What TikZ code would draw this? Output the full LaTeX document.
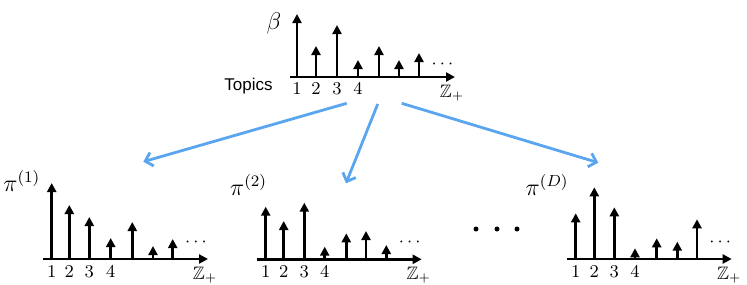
\documentclass[tikz,border=0pt]{standalone}
\usepackage{amsmath,amssymb}
\usepackage{fontspec}
\setsansfont{Liberation Sans}
\usepackage{xcolor}
\usepackage{tikz}
\usetikzlibrary{arrows.meta,positioning}
\definecolor{linkblue}{RGB}{90,165,240}

\begin{document}
\begin{tikzpicture}[
  x=0.5pt, y=-0.5pt,
  axis/.style={line width=1.4pt, -{Triangle[length=4.5pt,width=4.5pt]}},
  spike/.style={line width=1.4pt, -{Triangle[length=4.5pt,width=4.5pt]}},
  idx/.style={font=\small, inner sep=0pt},
  ttl/.style={font=\large, inner sep=0pt},
  link/.style={linkblue, line width=1.4pt, -{Straight Barb[length=3.5pt,width=7pt]}},
]
\useasboundingbox (0,0) rectangle (747,284);

% global topic weights
\begin{scope}[shift={(290,77)}]
  \draw[axis] (0,0) -- (165,0);
  \foreach \dx/\h in {7/63,26/31,47/52,68/17,89/31,109/17,129/24}
    \draw[spike] (\dx,0) -- (\dx,-\h);
  \foreach \dx/\n in {7/1,26/2,47/3,68/4}
    \node[idx] (b\n) at (\dx,12) {$\n$};
  \node[idx] (bz) at (162,16) {$\mathbb{Z}_+$};
  \node[idx] (bdots) at (154,-13) {$\cdots$};
  \node[ttl] (beta) at (-16,-54) {$\beta$};
  \node[font=\sffamily\fontsize{8.5}{10}\selectfont, anchor=base east, inner sep=0pt] (topics) at (-17,13) {Topics};
  \coordinate (src1) at (56.7,26.3);
  \coordinate (src2) at (87.7,27);
  \coordinate (src3) at (111.7,26.3);
\end{scope}

% document 1
\begin{scope}[shift={(43,259)}]
  \draw[axis] (0,0) -- (165,0);
  \foreach \dx/\h in {8.7/76,26.3/54,46.3/42,67.7/21,89.3/37,110/13,129.7/20}
    \draw[spike] (\dx,0) -- (\dx,-\h);
  \foreach \dx/\n in {8.7/1,26.3/2,46.3/3,67.7/4}
    \node[idx] (p\n) at (\dx,12.5) {$\n$};
  \node[idx] (pz) at (162,16) {$\mathbb{Z}_+$};
  \node[idx] (pdots) at (154.5,-17) {$\cdots$};
  \node[ttl, anchor=base west] (pi1) at (-40,-68) {$\pi^{(1)}$};
  \coordinate (dst1) at (100.3,-97.3);
\end{scope}

% document 2
\begin{scope}[shift={(256.7,259.3)}]
  \draw[axis] (0,0) -- (165,0);
  \foreach \dx/\h in {9/52.6,27/38.3,47.6/56.6,68/12.6,89.6/26,109.3/28.3,129.6/14.3}
    \draw[spike] (\dx,0) -- (\dx,-\h);
  \foreach \dx/\n in {9/1,27/2,47.6/3,68/4}
    \node[idx] (q\n) at (\dx,12.5) {$\n$};
  \node[idx] (qz) at (162,16) {$\mathbb{Z}_+$};
  \node[idx] (qdots) at (154.5,-17) {$\cdots$};
  \node[ttl, anchor=base west] (pi2) at (-27,-64) {$\pi^{(2)}$};
  \coordinate (dst2) at (89.3,-76);
\end{scope}

% skipped documents
\foreach \x in {476,497,517}
  \fill (\x,229) circle (2.5);

% document D
\begin{scope}[shift={(567.3,259)}]
  \draw[axis] (0,0) -- (164.4,0);
  \foreach \dx/\h in {8.4/45.7,27/71.7,47/51.7,67.7/10.7,89.4/20.7,110/17.3,129.7/39.7}
    \draw[spike] (\dx,0) -- (\dx,-\h);
  \foreach \dx/\n in {8.4/1,27/2,47/3,67.7/4}
    \node[idx] (r\n) at (\dx,12.5) {$\n$};
  \node[idx] (rz) at (162,16) {$\mathbb{Z}_+$};
  \node[idx] (rdots) at (154.5,-17) {$\cdots$};
  \node[ttl, anchor=base west] (piD) at (-42,-64) {$\pi^{(D)}$};
  \coordinate (dst3) at (31,-96.3);
\end{scope}

\draw[link] (src1) -- (dst1);
\draw[link] (src2) -- (dst2);
\draw[link] (src3) -- (dst3);
\end{tikzpicture}
\end{document}
